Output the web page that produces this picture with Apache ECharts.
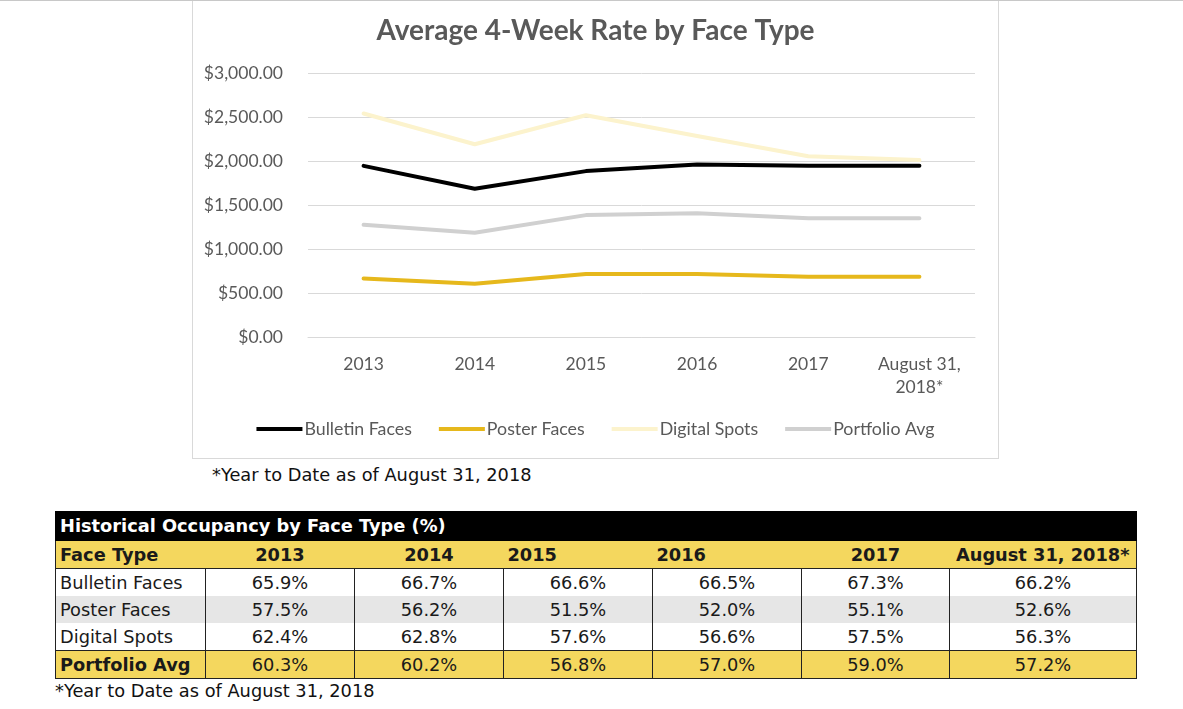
<!DOCTYPE html>
<html>
<head>
<meta charset="utf-8">
<script src="https://cdn.jsdelivr.net/npm/echarts@6/dist/echarts.min.js"></script>
<style>
  html, body { margin: 0; padding: 0; background: #fff; }
  body { width: 1183px; height: 709px; position: relative; overflow: hidden; border-top: 1px solid #c8c8c8; box-sizing: border-box; }
  #chart { position: absolute; left: 192px; top: -1px; width: 807px; height: 459px; border: 1px solid #d9d9d9; box-sizing: border-box; }
  .note { position: absolute; font-family: "DejaVu Sans", Verdana, sans-serif; font-size: 17.8px; color: #111; }
  #tbl { position: absolute; left: 55px; top: 510px; border-collapse: collapse; font-family: "DejaVu Sans", Verdana, sans-serif; font-size: 17.8px; color: #1a1a1a; table-layout: fixed; }
  #tbl td { padding: 0 4px; height: 27px; line-height: 27px; white-space: nowrap; overflow: hidden; }
  #tbl .ttl td { background: #000; color: #fff; font-weight: bold; height: 26px; line-height: 28px; border: 1px solid #000; }
  #tbl .hdr td { background: #f4d75e; font-weight: bold; height: 27px; border-bottom: 1px solid #222; }
  #tbl .hdr td:first-child { border-left: 1px solid #222; }
  #tbl .hdr td:last-child { border-right: 1px solid #222; }
  #tbl .body td { border-left: 1px solid #222; border-right: 1px solid #222; text-align: center; }
  #tbl .body td:first-child { text-align: left; }
  #tbl .alt td { background: #e6e6e6; }
  #tbl .avg td { background: #f4d75e; border: 1px solid #222; height: 27px; text-align: center; }
  #tbl .avg td:first-child { font-weight: bold; text-align: left; }
</style>
</head>
<body>
<div id="chart"></div>
<div class="note" style="left:212px; top:463px;">*Year to Date as of August 31, 2018</div>
<table id="tbl"></table>
<div class="note" style="left:55px; top:679px;">*Year to Date as of August 31, 2018</div>
<script>
// chart data
const years = ['2013', '2014', '2015', '2016', '2017', 'August 31,\n2018*'];
const bulletinFaces = [1945, 1685, 1885, 1960, 1945, 1945];
const posterFaces = [665, 605, 715, 715, 685, 685];
const digitalSpots = [2540, 2190, 2520, 2285, 2055, 2010];
const portfolioAvg = [1275, 1185, 1385, 1405, 1350, 1350];
const yTicks = [0, 500, 1000, 1500, 2000, 2500, 3000];

// table data
const tableTitle = 'Historical Occupancy by Face Type (%)';
const tableCols = ['Face Type', '2013', '2014', '2015', '2016', '2017', 'August 31, 2018*'];
const rowNames = ['Bulletin Faces', 'Poster Faces', 'Digital Spots', 'Portfolio Avg'];
const occBulletin = ['65.9%', '66.7%', '66.6%', '66.5%', '67.3%', '66.2%'];
const occPoster = ['57.5%', '56.2%', '51.5%', '52.0%', '55.1%', '52.6%'];
const occDigital = ['62.4%', '62.8%', '57.6%', '56.6%', '57.5%', '56.3%'];
const occPortfolio = ['60.3%', '60.2%', '56.8%', '57.0%', '59.0%', '57.2%'];

const font = 'Lato, "Open Sans", sans-serif';
const grey = '#595959';

const chart = echarts.init(document.getElementById('chart'));
const line = (name, data, color) => ({
  name, type: 'line', data, symbol: 'none', smooth: false,
  lineStyle: { color, width: 4, cap: 'round', join: 'round' },
  itemStyle: { color }
});

chart.setOption({
  animation: false,
  textStyle: { fontFamily: font },
  title: {
    text: 'Average 4-Week Rate by Face Type', left: 'center', top: 11,
    textStyle: { fontFamily: font, fontSize: 28, fontWeight: 'bold', color: grey }
  },
  grid: { left: 115, right: 23, top: 72, bottom: 121 },
  legend: {
    bottom: 15, left: 'center', icon: 'rect', itemWidth: 46, itemHeight: 4, itemGap: 27,
    textStyle: { fontFamily: font, fontSize: 17.8, color: grey, padding: [0, 0, 0, -3] },
    data: ['Bulletin Faces', 'Poster Faces', 'Digital Spots', 'Portfolio Avg']
  },
  xAxis: {
    type: 'category', data: years, boundaryGap: true,
    axisLine: { lineStyle: { color: '#d9d9d9' } }, axisTick: { show: false },
    axisLabel: { color: grey, fontSize: 17.5, margin: 16, lineHeight: 23, interval: 0, fontFamily: font }
  },
  yAxis: {
    type: 'value', min: yTicks[0], max: yTicks[yTicks.length - 1], interval: 500,
    axisLine: { show: false }, axisTick: { show: false },
    splitLine: { lineStyle: { color: '#d9d9d9', width: 1 } },
    axisLabel: {
      color: grey, fontSize: 17.5, margin: 25, fontFamily: font,
      formatter: v => '$' + v.toLocaleString('en-US', { minimumFractionDigits: 2, maximumFractionDigits: 2 })
    }
  },
  series: [
    line('Digital Spots', digitalSpots, '#fcf3cd'),
    line('Portfolio Avg', portfolioAvg, '#d0d0d0'),
    line('Poster Faces', posterFaces, '#e6b81c'),
    line('Bulletin Faces', bulletinFaces, '#000000')
  ]
});

// table
const widths = [150, 149, 149, 149, 149, 148, 187];
const tbl = document.getElementById('tbl');
let html = '<colgroup>' + widths.map(w => `<col style="width:${w}px">`).join('') + '</colgroup>';
html += `<tr class="ttl"><td colspan="7">${tableTitle}</td></tr>`;
const hdrAlign = ['left', 'center', 'center', 'left', 'left', 'center', 'center'];
html += '<tr class="hdr">' + tableCols.map((c, i) => `<td style="text-align:${hdrAlign[i]}">${c}</td>`).join('') + '</tr>';
const rows = [occBulletin, occPoster, occDigital, occPortfolio];
rows.forEach((r, i) => {
  const cls = i === 3 ? 'avg' : (i === 1 ? 'body alt' : 'body');
  html += `<tr class="${cls}"><td>${rowNames[i]}</td>` + r.map(v => `<td>${v}</td>`).join('') + '</tr>';
});
tbl.innerHTML = html;
</script>
</body>
</html>
